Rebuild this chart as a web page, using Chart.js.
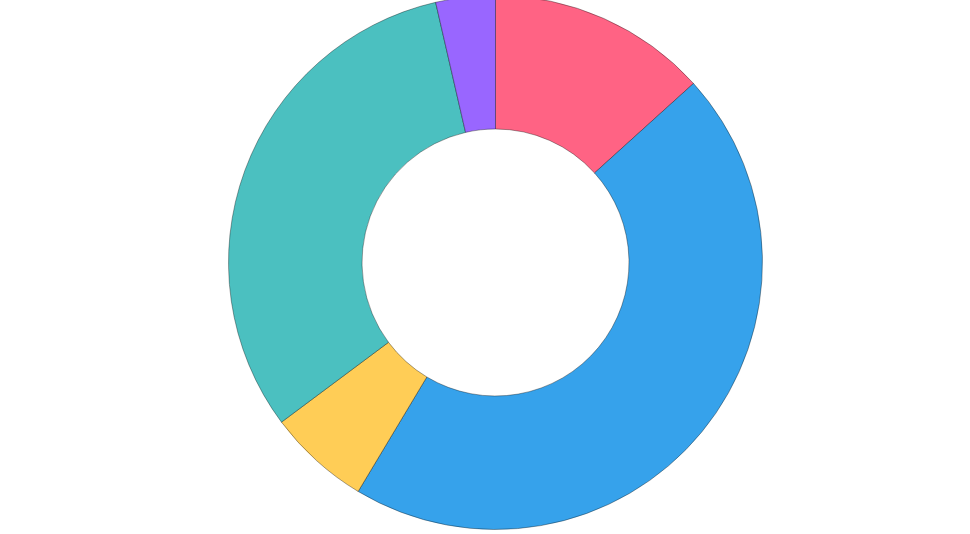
<!DOCTYPE html>
<html>
<head>
<meta charset="utf-8">
<script src="https://cdn.jsdelivr.net/npm/chart.js@4/dist/chart.umd.min.js"></script>
<style>
  html, body { margin: 0; padding: 0; background: #fff; overflow: hidden; width: 970px; height: 534px; }
  #wrap { position: absolute; left: 228px; top: -5px; width: 535px; height: 535px; }
</style>
</head>
<body>
<div id="wrap"><canvas id="chart1" width="535" height="535"></canvas></div>
<script>
const labels = ["Red", "Blue", "Yellow", "Green", "Purple"];
const values = [13.3, 45.3, 6.2, 31.6, 3.6];
const colors = ["#FF6384", "#36A2EB", "#FFCD56", "#4BC0C0", "#9966FF"];

const ctx1 = document.getElementById("chart1").getContext("2d");
const chart1 = new Chart(ctx1, {
  type: "doughnut",
  data: {
    labels: labels,
    datasets: [{
      data: values,
      backgroundColor: colors,
      borderColor: "rgba(0, 0, 0, 0.35)",
      borderWidth: 1,
      hoverOffset: 0
    }]
  },
  options: {
    responsive: false,
    animation: false,
    cutout: "50%",
    plugins: { legend: { display: false }, title: { display: false }, tooltip: { enabled: false } }
  }
});
</script>
</body>
</html>
